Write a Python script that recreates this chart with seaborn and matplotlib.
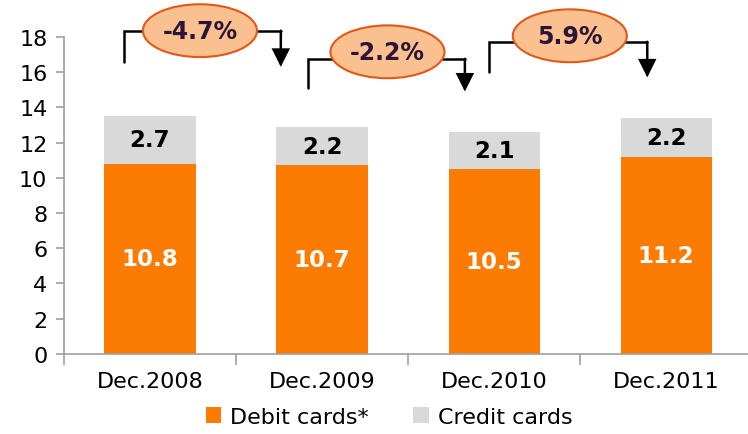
import matplotlib
matplotlib.use('Agg')
import matplotlib.pyplot as plt
from matplotlib.patches import Ellipse
import seaborn as sns
import pandas as pd

# Данные
periods = ['Dec.2008', 'Dec.2009', 'Dec.2010', 'Dec.2011']
debit = [10.8, 10.7, 10.5, 11.2]
credit = [2.7, 2.2, 2.1, 2.2]
changes = ['-4.7%', '-2.2%', '5.9%']

df = pd.DataFrame({'period': periods, 'debit': debit, 'credit': credit})
df['total'] = df['debit'] + df['credit']

sns.set_style('white')
plt.rcParams['font.family'] = ['DejaVu Sans']

orange = '#FC7C03'
grey = '#D9D9D9'
axis_grey = '#A0A0A0'

fig = plt.figure(figsize=(7.48, 4.35), dpi=100)
ax = fig.add_axes([0.0856, 0.184, 0.92, 0.729])

# Столбцы: сначала общая высота (серый), затем дебетовые (оранжевый)
sns.barplot(data=df, x='period', y='total', color=grey, width=0.53,
            saturation=1, label='Credit cards', linewidth=0, ax=ax)
sns.barplot(data=df, x='period', y='debit', color=orange, width=0.53,
            saturation=1, label='Debit cards*', linewidth=0, ax=ax)
handles, labels = ax.get_legend_handles_labels()
if ax.get_legend() is not None:
    ax.get_legend().remove()

# Подписи значений
for i, row in df.iterrows():
    ax.text(i, row['debit'] / 2, f"{row['debit']:.1f}", ha='center', va='center',
            color='white', fontsize=16.5, fontweight='bold')
    ax.text(i, row['debit'] + row['credit'] / 2, f"{row['credit']:.1f}", ha='center',
            va='center', color='black', fontsize=16.5, fontweight='bold')

# Скобки с изменениями
brackets = [
    # x_left, x_right, y_bottom, y_line, y_tip, ellipse_x, ellipse_y
    (-0.15, 0.76, 16.6, 18.35, 16.3, 0.29, 18.35),
    (0.92, 1.83, 15.1, 16.75, 14.9, 1.38, 17.15),
    (1.97, 2.89, 16.0, 17.72, 15.7, 2.44, 18.06),
]
for (xl, xr, yb, yl, yt, ex, ey), txt in zip(brackets, changes):
    ax.plot([xl, xl, xr], [yb, yl, yl], color='black', lw=1.8, clip_on=False,
            solid_joinstyle='miter', zorder=3)
    ax.annotate('', xy=(xr, yt), xytext=(xr, yl),
                arrowprops=dict(arrowstyle='-|>', mutation_scale=26, lw=1.8,
                                color='black', shrinkA=0, shrinkB=0,
                                joinstyle='miter'),
                annotation_clip=False, zorder=3)
    ell = Ellipse((ex, ey), 0.663, 3.0, facecolor='#FAC08F', edgecolor='#E2581A',
                  lw=1.5, clip_on=False, zorder=4)
    ax.add_patch(ell)
    ax.text(ex, ey, txt, ha='center', va='center', fontsize=17, fontweight='bold',
            color='#2B1437', zorder=5)

# Оси
ax.set_ylim(0, 18)
ax.set_xlim(-0.5, 3.5)
ax.set_yticks(range(0, 19, 2))
ax.set_xlabel('')
ax.set_ylabel('')
ax.tick_params(axis='y', labelsize=16, length=6, color=axis_grey, width=1.2,
               left=True, pad=6, labelcolor='black')
ax.tick_params(axis='x', labelsize=16, length=0, pad=12, labelcolor='black')
ax.set_xticks([-0.5, 0.5, 1.5, 2.5, 3.5], minor=True)
ax.tick_params(axis='x', which='minor', length=8, color=axis_grey, width=1.2,
               bottom=True)
for side in ['top', 'right']:
    ax.spines[side].set_visible(False)
for side in ['left', 'bottom']:
    ax.spines[side].set_color(axis_grey)
    ax.spines[side].set_linewidth(1.2)

# Легенда: дебетовые первыми
order = [labels.index('Debit cards*'), labels.index('Credit cards')]
fig.legend([handles[k] for k in order], [labels[k] for k in order],
           loc='center', bbox_to_anchor=(0.52, 0.04), ncol=2, frameon=False,
           fontsize=16, handlelength=0.7, handleheight=0.7, handletextpad=0.4,
           columnspacing=2.0, borderpad=0, labelcolor='black')

fig.savefig('out.png', dpi=100)
